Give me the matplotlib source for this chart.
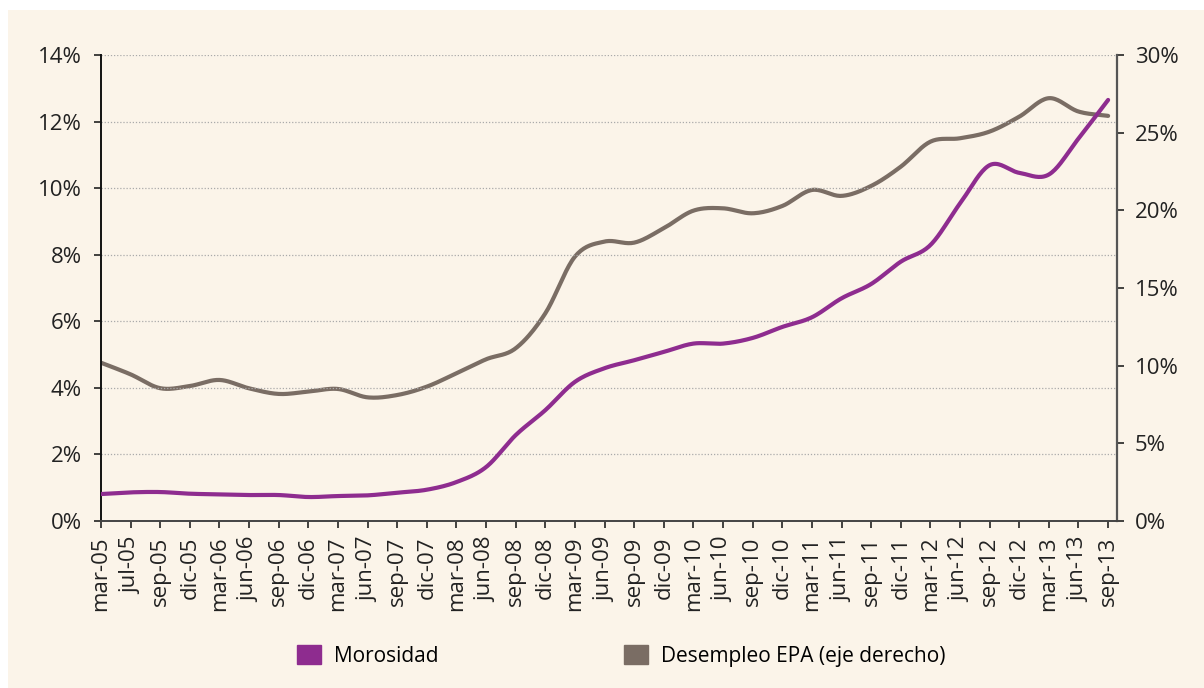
import matplotlib.pyplot as plt
import matplotlib.patches as mpatches
import numpy as np

fechas = ['mar-05', 'jul-05', 'sep-05', 'dic-05', 'mar-06', 'jun-06', 'sep-06', 'dic-06',
          'mar-07', 'jun-07', 'sep-07', 'dic-07', 'mar-08', 'jun-08', 'sep-08', 'dic-08',
          'mar-09', 'jun-09', 'sep-09', 'dic-09', 'mar-10', 'jun-10', 'sep-10', 'dic-10',
          'mar-11', 'jun-11', 'sep-11', 'dic-11', 'mar-12', 'jun-12', 'sep-12', 'dic-12',
          'mar-13', 'jun-13', 'sep-13']

# Morosidad (%), eje izquierdo
morosidad = [0.81, 0.86, 0.87, 0.82, 0.80, 0.78, 0.78, 0.72,
             0.75, 0.77, 0.85, 0.94, 1.17, 1.62, 2.58, 3.33,
             4.18, 4.59, 4.83, 5.08, 5.33, 5.33, 5.50, 5.83,
             6.12, 6.69, 7.12, 7.79, 8.29, 9.54, 10.69, 10.46,
             10.41, 11.49, 12.65]

# Desempleo EPA (%), eje derecho
desempleo = [10.19, 9.44, 8.55, 8.69, 9.08, 8.54, 8.18, 8.33,
             8.50, 7.96, 8.11, 8.65, 9.51, 10.41, 11.12, 13.37,
             17.02, 17.99, 17.92, 18.85, 19.98, 20.13, 19.81, 20.28,
             21.31, 20.93, 21.57, 22.81, 24.42, 24.64, 25.07, 26.03,
             27.22, 26.36, 26.08]

color_mor = '#8E2C8F'
color_des = '#7A6D64'
fondo = '#FBF4E9'

plt.rcParams['font.family'] = ['Open Sans', 'DejaVu Sans']


def suave(x, y, n=20):
    # curva suavizada tipo Excel (Catmull-Rom) para dibujar la linea
    x = np.asarray(x, float)
    y = np.asarray(y, float)
    px = np.concatenate([[2 * x[0] - x[1]], x, [2 * x[-1] - x[-2]]])
    py = np.concatenate([[2 * y[0] - y[1]], y, [2 * y[-1] - y[-2]]])
    xs, ys = [], []
    t = np.linspace(0, 1, n, endpoint=False)
    for i in range(1, len(px) - 2):
        for p, out in ((px, xs), (py, ys)):
            p0, p1, p2, p3 = p[i - 1], p[i], p[i + 1], p[i + 2]
            out.extend(0.5 * (2 * p1 + (-p0 + p2) * t + (2 * p0 - 5 * p1 + 4 * p2 - p3) * t ** 2
                              + (-p0 + 3 * p1 - 3 * p2 + p3) * t ** 3))
    xs.append(x[-1])
    ys.append(y[-1])
    return xs, ys


fig = plt.figure(figsize=(12.04, 6.88), dpi=100, facecolor='white')
fig.patches.append(mpatches.Rectangle((8 / 1204, 0), 1, 1 - 10 / 688, transform=fig.transFigure,
                                      facecolor=fondo, edgecolor='none', zorder=-10))

ax = fig.add_axes([101 / 1204, 1 - 521 / 688, (1117 - 101) / 1204, (521 - 55) / 688])
ax.set_facecolor(fondo)
ax2 = ax.twinx()

x = np.arange(len(fechas))
xs, ys = suave(x, desempleo)
ax2.plot(xs, ys, color=color_des, lw=3, solid_capstyle='round')
xs, ys = suave(x, morosidad)
ax.plot(xs, ys, color=color_mor, lw=3, solid_capstyle='round', zorder=5)
ax.set_zorder(ax2.get_zorder() + 1)
ax.patch.set_visible(False)
ax2.patch.set_facecolor(fondo)
ax2.patch.set_visible(True)

ax.set_xlim(0, 34.3)
ax.set_ylim(0, 14)
ax2.set_ylim(0, 30)
ax.set_yticks(range(0, 15, 2))
ax.set_yticklabels([f'{v}%' for v in range(0, 15, 2)])
ax2.set_yticks(range(0, 31, 5))
ax2.set_yticklabels([f'{v}%' for v in range(0, 31, 5)])
ax.set_xticks(x)
ax.set_xticklabels(fechas, rotation=90)

ax.grid(axis='y', color='#AAAAAA', ls=(0, (1, 1.5)), lw=0.9)
ax.set_axisbelow(True)

for a in (ax, ax2):
    a.spines['top'].set_visible(False)
    a.tick_params(labelsize=16, length=5, width=1.2, colors='#222222')
ax.tick_params(axis='y', pad=9)
ax2.tick_params(axis='y', pad=8)
ax.tick_params(axis='x', pad=6)
ax.spines['left'].set_color('#111111')
ax.spines['left'].set_linewidth(1.4)
ax.spines['right'].set_visible(False)
ax.spines['bottom'].set_color('#444444')
ax.spines['bottom'].set_linewidth(1.4)
ax2.spines['left'].set_visible(False)
ax2.spines['bottom'].set_visible(False)
ax2.spines['right'].set_color('#555555')
ax2.spines['right'].set_linewidth(1.6)

h1 = mpatches.Patch(color=color_mor, label='Morosidad')
h2 = mpatches.Patch(color=color_des, label='Desempleo EPA (eje derecho)')
fig.legend(handles=[h1, h2], loc='center', bbox_to_anchor=(621 / 1204, 1 - 656 / 688), ncol=2,
           frameon=False, fontsize=15, handlelength=1.15, handleheight=1.05,
           handletextpad=0.62, columnspacing=8.9)

fig.savefig('out.png', dpi=100, facecolor='white')
